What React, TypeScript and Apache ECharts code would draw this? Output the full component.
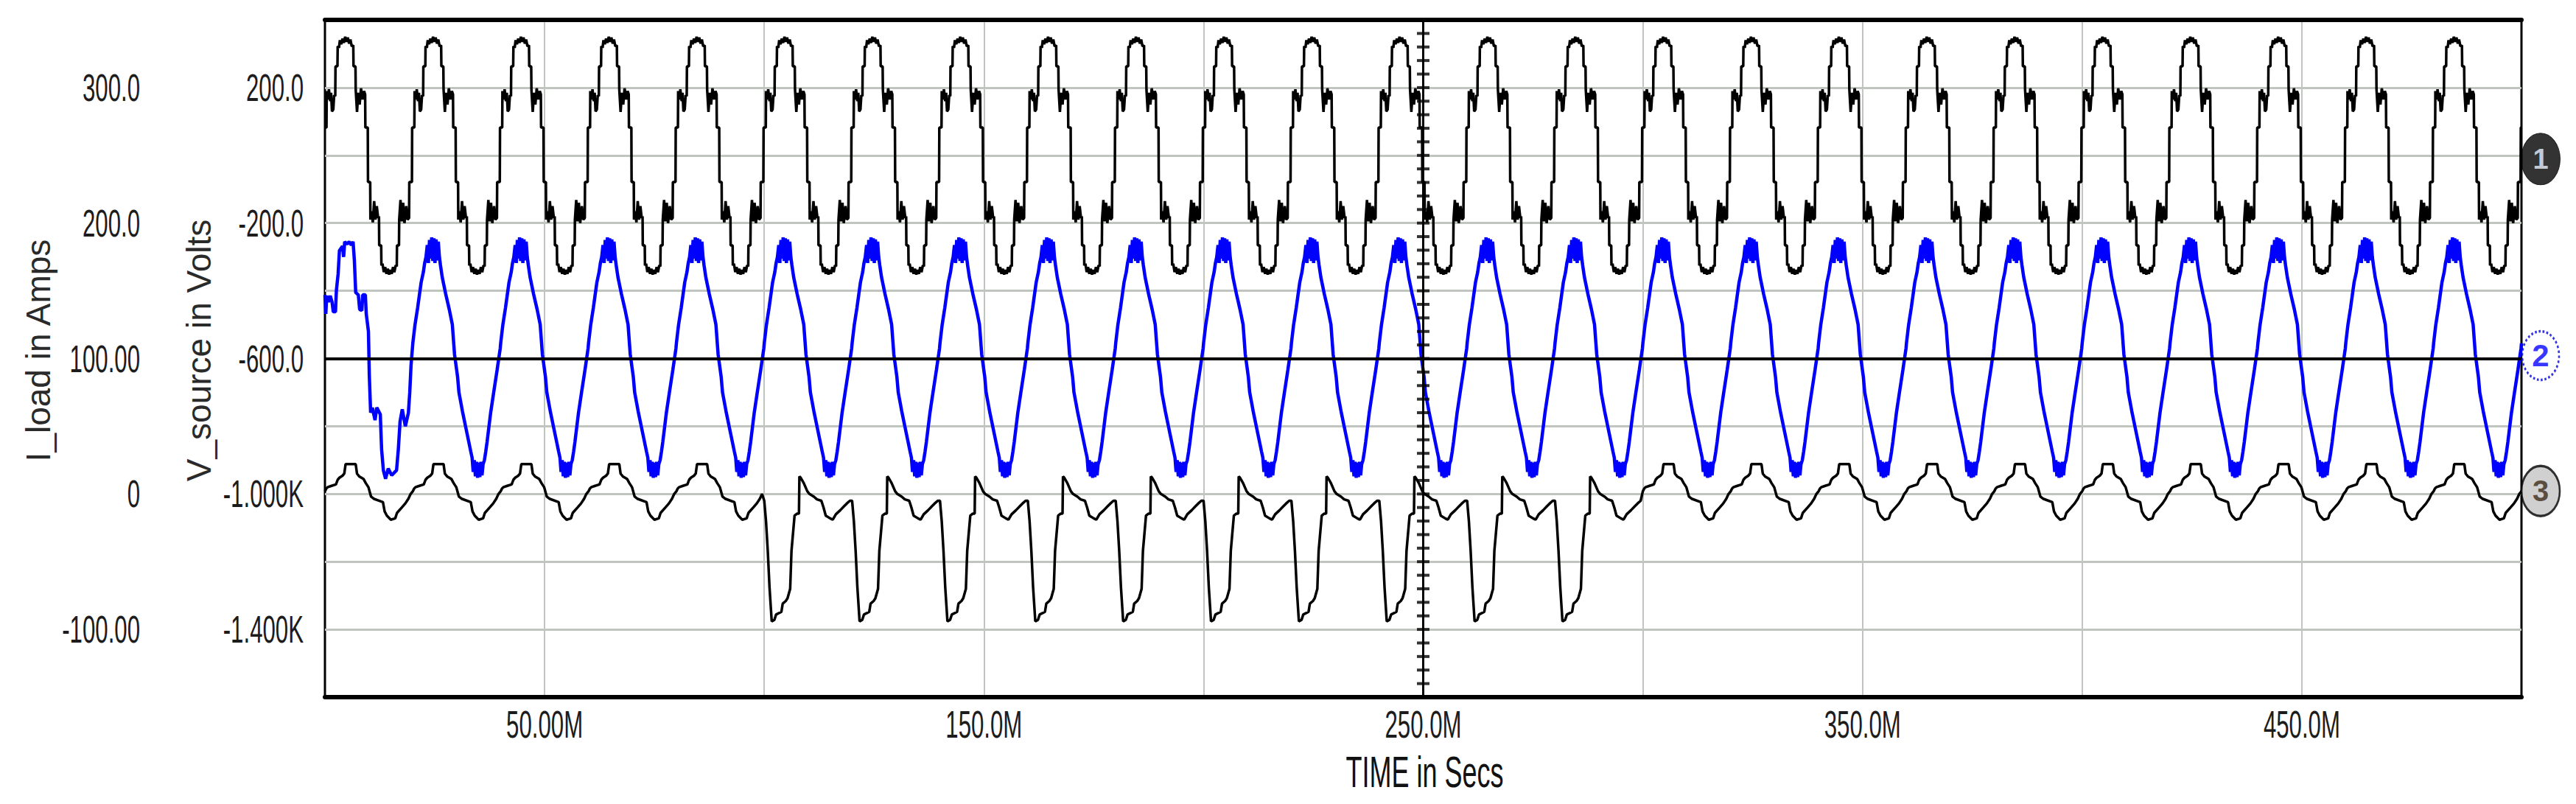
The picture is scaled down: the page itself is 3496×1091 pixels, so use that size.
import React, { useEffect, useRef } from "react";
import * as echarts from "echarts";

// ---------- data ----------
const PERIOD_MS = 20; // one 50 Hz period, in ms

// Trace 1 (V_source, volts) — one period: [ms within period, value]
const trace1Cycle: [number, number][] = [
  [0.0, 82], [0.35, 82], [0.4, 190], [0.7, 165], [0.9, 195], [1.2, 160], [1.4, 185], [1.6, 130],
  [1.9, 135], [2.1, 178], [2.35, 175], [2.4, 263], [2.85, 263], [2.9, 322], [3.2, 318], [3.4, 340],
  [3.7, 328], [4.0, 345], [4.3, 332], [4.6, 350], [4.9, 335], [5.2, 348], [5.5, 330], [5.8, 342],
  [6.1, 322], [6.45, 325], [6.5, 263], [6.95, 263], [7.0, 195], [7.3, 128], [7.6, 185], [7.9, 150],
  [8.2, 198], [8.6, 165], [8.9, 190], [9.15, 180], [9.2, 82], [9.75, 82], [9.8, -79], [10.3, -79],
  [10.35, -190], [10.6, -165], [10.9, -198], [11.2, -135], [11.5, -190], [11.8, -150], [12.1, -185],
  [12.3, -180], [12.35, -266], [12.8, -266], [12.85, -325], [13.1, -320], [13.4, -345], [13.7, -330],
  [14.0, -350], [14.3, -335], [14.6, -352], [14.9, -338], [15.2, -350], [15.5, -330], [15.8, -345],
  [16.1, -325], [16.35, -328], [16.4, -266], [16.85, -266], [16.9, -190], [17.2, -132], [17.5, -195],
  [17.8, -140], [18.1, -200], [18.5, -150], [18.8, -190], [19.15, -185], [19.2, -79], [19.8, -79],
  [19.85, 82],
];
const trace1Pattern = "NNNNNNNNNNNNNNNNNNNNNNNNN";

// Trace 2 (blue, plotted on the volts axis around its -600 reference)
const trace2FirstCycle: [number, number][] = [
  [0.0, -412], [0.2, -468], [0.4, -415], [0.8, -433], [1.2, -415], [1.6, -432], [1.9, -462],
  [2.4, -462], [2.6, -400], [3.0, -350], [3.3, -281], [4.0, -268], [4.25, -300], [4.5, -255],
  [5.0, -262], [5.5, -255], [6.0, -265], [6.4, -255], [6.7, -310], [7.0, -405], [7.6, -412],
  [7.9, -455], [8.4, -458], [8.6, -412], [9.2, -412], [9.4, -468], [9.9, -520], [10.1, -650],
  [10.4, -760], [10.8, -745], [11.4, -782], [11.8, -745], [12.6, -765], [12.9, -869], [13.3, -930],
  [13.8, -955], [14.4, -925], [15.2, -945], [16.3, -930], [16.7, -869], [17.1, -786], [17.6, -750],
  [18.3, -800], [19.0, -760], [19.3, -701], [19.6, -620],
];
const trace2Cycle: [number, number][] = [
  [0.0, -555], [0.5, -500], [1.1, -450], [1.9, -375], [2.4, -345], [2.7, -318], [3.0, -300],
  [3.3, -265], [3.55, -318], [3.8, -250], [4.05, -305], [4.3, -242], [4.55, -312], [4.8, -245],
  [5.05, -318], [5.3, -248], [5.55, -310], [5.8, -255], [6.05, -300], [6.3, -325], [6.7, -360],
  [7.1, -385], [7.5, -410], [8.3, -455], [9.0, -500], [9.5, -588], [10.2, -655], [10.5, -700],
  [11.3, -756], [12.0, -800], [12.4, -825], [12.8, -850], [13.2, -875], [13.5, -893], [13.75, -935],
  [14.0, -900], [14.25, -948], [14.5, -905], [14.75, -952], [15.0, -908], [15.25, -950],
  [15.5, -905], [15.75, -945], [16.0, -912], [16.3, -900], [16.6, -875], [16.9, -847], [17.7, -762],
  [18.4, -701], [19.2, -633], [19.9, -570],
];
const trace2Pattern = "FNNNNNNNNNNNNNNNNNNNNNNNN";

// Trace 3 (I_load, amps)
const trace3Cycle: [number, number][] = [
  [0.0, 2], [0.3, 4], [0.6, 5], [1.5, 6], [2.5, 7], [2.9, 10.5], [3.3, 12], [4.0, 13.5], [4.4, 15],
  [4.7, 22], [7.0, 22], [7.3, 15], [7.8, 13], [8.8, 11], [9.3, 8], [9.9, 5], [10.5, -2], [11.1, -3.5],
  [13.2, -6], [13.6, -13], [14.1, -16], [15.0, -19], [16.0, -18], [16.4, -14], [17.5, -10],
  [18.3, -7], [19.0, -3.5], [19.5, 0],
];
const trace3DistortedCycle: [number, number][] = [
  [0.0, -5], [0.1, -5], [0.4, -20], [0.8, -42], [1.2, -69], [1.7, -94], [2.3, -93], [2.7, -89],
  [3.9, -87], [4.2, -81], [4.9, -79], [5.3, -77], [5.9, -70], [6.2, -42], [6.9, -16], [7.5, -14.5],
  [7.9, -14.5], [8.0, 13], [8.3, 12], [9.0, 8], [9.8, 2], [10.3, 0], [11.3, -2], [12.0, -4],
  [13.0, -5], [13.5, -10], [14.0, -16], [15.0, -18], [15.6, -19], [16.3, -15], [17.3, -12],
  [18.2, -9], [18.8, -7], [19.5, -5],
];
const trace3Pattern = "NNNNNDDDDDDDDDDNNNNNNNNNN";

// Axes
const X_MIN = 0, X_MAX = 500, X_STEP = 50;
const I_MIN = -150, I_MAX = 350, I_STEP = 50;
const V_MIN = -1600, V_MAX = 400, V_STEP = 200;

const xTickValues = [50, 150, 250, 350, 450];
const xTickLabels = ["50.00M", "150.0M", "250.0M", "350.0M", "450.0M"];
const iTickValues = [300, 200, 100, 0, -100];
const iTickLabels = ["300.0", "200.0", "100.00", "0", "-100.00"];
const vTickValues = [200, -200, -600, -1000, -1400];
const vTickLabels = ["200.0", "-200.0", "-600.0", "-1.000K", "-1.400K"];

const cursorTime = 250;
const cursorTickStep = 40;
const trace2Reference = -600;
const markerLevels = { m1: 0, m2: -600, m3: 0 };

// ---------- helpers ----------
function buildTrace(pattern: string, shapes: Record<string, [number, number][]>) {
  const out: [number, number][] = [];
  for (let c = 0; c < pattern.length; c++) {
    const shape = shapes[pattern[c]];
    for (const [t, v] of shape) out.push([c * PERIOD_MS + t, v]);
  }
  const lastShape = shapes[pattern[pattern.length - 1]];
  out.push([pattern.length * PERIOD_MS, lastShape[0][1]]);
  return out;
}

const FONT = '"Liberation Sans", Arial, Helvetica, sans-serif';
const TEXT_COLOR = "#1c1c1c";
const GRID_COLOR = "#c1c5bf";

function labelSeries(
  yAxisIndex: number,
  values: number[],
  labels: string[],
  mode: "x" | "y",
  dx: number,
  dy: number,
  align: string
) {
  return {
    type: "custom",
    coordinateSystem: "cartesian2d",
    xAxisIndex: 0,
    yAxisIndex,
    clip: false,
    silent: true,
    z: 20,
    data: values.map((v) => (mode === "x" ? [v, yAxisIndex === 1 ? V_MIN : I_MIN] : [X_MIN, v])),
    renderItem: (params: any, api: any) => {
      const p = api.coord([api.value(0), api.value(1)]);
      return {
        type: "text",
        x: p[0] + dx,
        y: p[1] + dy,
        scaleX: 0.6,
        scaleY: 1,
        style: {
          text: labels[params.dataIndex],
          fill: TEXT_COLOR,
          fontSize: 52,
          fontFamily: FONT,
          align,
          verticalAlign: "middle",
          textAlign: align,
          textVerticalAlign: "middle",
        },
      };
    },
  };
}

const ELLIPSE = "path://M0 50A50 50 0 1 1 100 50A50 50 0 1 1 0 50Z";

export default function App() {
  const ref = useRef<HTMLDivElement>(null);

  useEffect(() => {
    if (!ref.current) return;
    const chart = echarts.init(ref.current, null, { renderer: "svg" });

    const trace1 = buildTrace(trace1Pattern, { N: trace1Cycle });
    const trace2 = buildTrace(trace2Pattern, { F: trace2FirstCycle, N: trace2Cycle });
    const trace3 = buildTrace(trace3Pattern, { N: trace3Cycle, D: trace3DistortedCycle });

    const cursorTicks: [number, number][] = [];
    for (let v = V_MAX - cursorTickStep; v > V_MIN; v -= cursorTickStep) cursorTicks.push([cursorTime, v]);

    const option: any = {
      animation: false,
      backgroundColor: "#ffffff",
      grid: {
        left: 441,
        right: 74,
        top: 27,
        bottom: 145,
        show: true,
        borderColor: "#000",
        borderWidth: 3,
        backgroundColor: "transparent",
      },
      xAxis: [
        {
          type: "value",
          min: X_MIN,
          max: X_MAX,
          interval: X_STEP,
          position: "bottom",
          axisLine: { show: true, onZero: false, lineStyle: { color: "#000", width: 6 } },
          axisTick: { show: false },
          axisLabel: { show: false },
          splitLine: {
            show: true,
            showMinLine: false,
            showMaxLine: false,
            lineStyle: { color: GRID_COLOR, width: 2 },
          },
        },
        {
          type: "value",
          min: X_MIN,
          max: X_MAX,
          interval: X_STEP,
          position: "top",
          axisLine: { show: true, onZero: false, lineStyle: { color: "#000", width: 6 } },
          axisTick: { show: false },
          axisLabel: { show: false },
          splitLine: { show: false },
        },
      ],
      yAxis: [
        {
          type: "value",
          min: I_MIN,
          max: I_MAX,
          interval: I_STEP,
          position: "left",
          name: "I_load in Amps",
          nameLocation: "middle",
          nameGap: 366,
          nameTextStyle: { fontSize: 46, fontFamily: FONT, color: "#2a2a2a", padding: [0, 0, 0, 22] },
          axisLine: { show: false },
          axisTick: { show: false },
          axisLabel: { show: false },
          splitLine: { show: false },
        },
        {
          type: "value",
          min: V_MIN,
          max: V_MAX,
          interval: V_STEP,
          position: "left",
          name: "V_source in Volts",
          nameLocation: "middle",
          nameGap: 148,
          nameTextStyle: { fontSize: 46, fontFamily: FONT, color: "#2a2a2a", padding: [0, 0, 0, 22] },
          axisLine: { show: false },
          axisTick: { show: false },
          axisLabel: { show: false },
          splitLine: {
            show: true,
            showMinLine: false,
            showMaxLine: false,
            lineStyle: { color: GRID_COLOR, width: 3 },
          },
        },
      ],
      series: [
        {
          name: "ref",
          type: "line",
          xAxisIndex: 0,
          yAxisIndex: 1,
          data: [],
          z: 1,
          markLine: {
            silent: true,
            symbol: ["none", "none"],
            label: { show: false },
            lineStyle: { color: "#000", width: 4, type: "solid" },
            data: [{ yAxis: trace2Reference }],
          },
        },
        {
          name: "V_source",
          type: "line",
          xAxisIndex: 0,
          yAxisIndex: 1,
          data: trace1,
          symbol: "none",
          lineStyle: { color: "#000", width: 3.5 },
          itemStyle: { color: "#000" },
          z: 3,
        },
        {
          name: "trace2",
          type: "line",
          xAxisIndex: 0,
          yAxisIndex: 1,
          data: trace2,
          symbol: "none",
          lineStyle: { color: "#0000ff", width: 4.5 },
          itemStyle: { color: "#0000ff" },
          z: 2,
        },
        {
          name: "I_load",
          type: "line",
          xAxisIndex: 0,
          yAxisIndex: 0,
          data: trace3,
          symbol: "none",
          lineStyle: { color: "#000", width: 3.5 },
          itemStyle: { color: "#000" },
          z: 3,
        },
        {
          name: "cursor",
          type: "scatter",
          xAxisIndex: 0,
          yAxisIndex: 1,
          data: cursorTicks,
          symbol: "rect",
          symbolSize: [17, 4],
          itemStyle: { color: "#000" },
          silent: true,
          z: 6,
          markLine: {
            silent: true,
            symbol: ["none", "none"],
            label: { show: false },
            lineStyle: { color: "#000", width: 3, type: "solid" },
            data: [{ xAxis: cursorTime }],
          },
        },
        {
          name: "m1",
          type: "scatter",
          xAxisIndex: 0,
          yAxisIndex: 1,
          clip: false,
          silent: true,
          z: 10,
          data: [[X_MAX, markerLevels.m1]],
          symbol: ELLIPSE,
          symbolSize: [53, 70],
          symbolOffset: [26, 5],
          itemStyle: { color: "#000", borderColor: "#000", borderWidth: 1 },
          label: {
            show: true,
            position: "inside",
            formatter: "1",
            color: "#eef2ff",
            fontSize: 38,
            fontWeight: "bold",
            fontFamily: FONT,
          },
        },
        {
          name: "m2",
          type: "scatter",
          xAxisIndex: 0,
          yAxisIndex: 1,
          clip: false,
          silent: true,
          z: 10,
          data: [[X_MAX, markerLevels.m2]],
          symbol: ELLIPSE,
          symbolSize: [50, 66],
          symbolOffset: [26, -4],
          itemStyle: { color: "#fff", borderColor: "#0000dd", borderWidth: 3, borderType: "dotted" },
          label: {
            show: true,
            position: "inside",
            formatter: "2",
            color: "#0000ff",
            fontSize: 42,
            fontWeight: "bold",
            fontFamily: FONT,
          },
        },
        {
          name: "m3",
          type: "scatter",
          xAxisIndex: 0,
          yAxisIndex: 0,
          clip: false,
          silent: true,
          z: 10,
          data: [[X_MAX, markerLevels.m3]],
          symbol: ELLIPSE,
          symbolSize: [52, 68],
          symbolOffset: [26, -4],
          itemStyle: { color: "#c4c4c4", borderColor: "#000", borderWidth: 3 },
          label: {
            show: true,
            position: "inside",
            formatter: "3",
            color: "#3b2a18",
            fontSize: 40,
            fontWeight: "bold",
            fontFamily: FONT,
          },
        },
        labelSeries(1, xTickValues, xTickLabels, "x", 0, 37, "center"),
        labelSeries(1, vTickValues, vTickLabels, "y", -29, 0, "right"),
        labelSeries(0, iTickValues, iTickLabels, "y", -251, 0, "right"),
        {
          type: "custom",
          coordinateSystem: "cartesian2d",
          xAxisIndex: 0,
          yAxisIndex: 1,
          clip: false,
          silent: true,
          z: 20,
          data: [[cursorTime, V_MIN]],
          renderItem: (_params: any, api: any) => {
            const p = api.coord([api.value(0), api.value(1)]);
            return {
              type: "text",
              x: p[0] + 2,
              y: p[1] + 101,
              scaleX: 0.6,
              scaleY: 1,
              style: {
                text: "TIME in Secs",
                fill: "#111",
                fontSize: 60,
                fontFamily: FONT,
                align: "center",
                verticalAlign: "middle",
                textAlign: "center",
                textVerticalAlign: "middle",
              },
            };
          },
        },
      ],
    };

    chart.setOption(option);
    return () => chart.dispose();
  }, []);

  return (
    <div
      ref={ref}
      style={{ position: "absolute", left: 0, top: 0, width: 3496, height: 1091, background: "#fff" }}
    />
  );
}
